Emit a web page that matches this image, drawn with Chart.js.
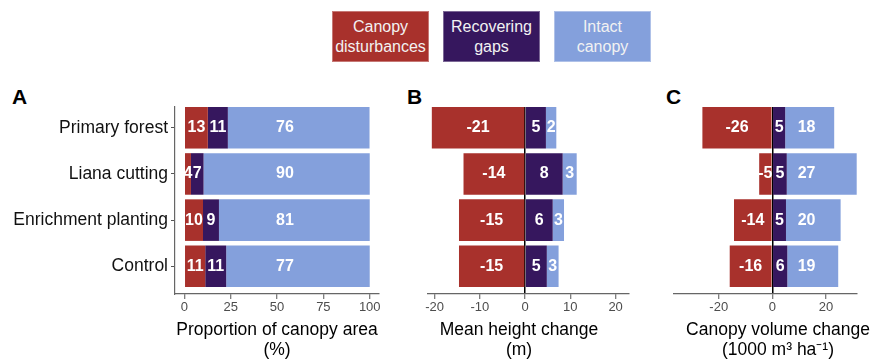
<!DOCTYPE html>
<html>
<head>
<meta charset="utf-8">
<script src="https://cdn.jsdelivr.net/npm/chart.js@4.4.1/dist/chart.umd.min.js"></script>
<style>
  html, body { margin: 0; padding: 0; width: 870px; height: 360px; overflow: hidden; background: #fff;
               font-family: "Liberation Sans", Arial, sans-serif; }
  .panel { position: absolute; top: 80px; height: 280px; }
  .key { position: absolute; top: 11px; width: 97px; height: 51px; box-sizing: border-box;
         border: 1px solid rgba(255,255,255,0.35); color: #f2f2f2; font-size: 16px; line-height: 20px;
         text-align: center; display: flex; align-items: center; justify-content: center; }
  .tag { position: absolute; top: 86px; font-weight: bold; font-size: 21px; line-height: 21px; color: #000; }
</style>
</head>
<body>
<div class="key" style="left:332px;background:#A8312C">Canopy<br>disturbances</div>
<div class="key" style="left:443px;background:#36175E">Recovering<br>gaps</div>
<div class="key" style="left:554px;background:#84A0DC">Intact<br>canopy</div>

<div class="tag" style="left:12px">A</div>
<div class="tag" style="left:407px">B</div>
<div class="tag" style="left:666px">C</div>

<div class="panel" style="left:0px;width:390px"><canvas id="chartA" width="390" height="280"></canvas></div>
<div class="panel" style="left:390px;width:258px"><canvas id="chartB" width="258" height="280"></canvas></div>
<div class="panel" style="left:640px;width:276px"><canvas id="chartC" width="276" height="280"></canvas></div>

<script>
const categories = ['Primary forest', 'Liana cutting', 'Enrichment planting', 'Control'];
const seriesNames = ['Canopy disturbances', 'Recovering gaps', 'Intact canopy'];
const seriesColors = ['#A8312C', '#36175E', '#84A0DC'];

// A: proportion of canopy area (%)
const areaDisturbed = [12.7, 3.6, 10.1, 11.3];
const areaRecovering = [10.8, 6.8, 8.6, 11.3];
const areaIntact = [76.4, 89.6, 81.3, 77.4];

// B: mean height change (m)
const heightDisturbed = [-20.6, -13.6, -14.6, -14.6];
const heightRecovering = [4.6, 8.3, 6.1, 4.8];
const heightIntact = [2.3, 3.1, 2.5, 2.6];

// C: canopy volume change (1000 m3 ha-1)
const volumeDisturbed = [-26.1, -4.9, -14.3, -15.9];
const volumeRecovering = [4.8, 5.4, 5.1, 5.6];
const volumeIntact = [18.3, 26.6, 20.4, 19.0];

const ticksA = [0, 25, 50, 75, 100];
const ticksB = [-20, -10, 0, 10, 20];
const ticksC = [-20, 0, 20];

const FONT = '"Liberation Sans", Arial, sans-serif';
Chart.defaults.font.family = FONT;

// white value labels on the bars
const barLabels = {
  id: 'barLabels',
  afterDatasetsDraw(chart) {
    const ctx = chart.ctx;
    ctx.save();
    ctx.font = 'bold 16px ' + FONT;
    ctx.fillStyle = '#fff';
    ctx.textAlign = 'center';
    ctx.textBaseline = 'middle';
    chart.data.datasets.forEach((ds, d) => {
      chart.getDatasetMeta(d).data.forEach((bar, i) => {
        let x = (bar.x + bar.base) / 2;
        if (ds.labelAt !== undefined) x = chart.scales.x.getPixelForValue(ds.labelAt);
        ctx.fillText(String(Math.round(ds.data[i].x)), x, bar.y);
      });
    });
    ctx.restore();
  }
};

function makePanel(id, series, cfg) {
  const datasets = series.map((vals, s) => ({
    label: seriesNames[s],
    data: vals.map((v, i) => ({ x: v, y: i })),
    backgroundColor: seriesColors[s],
    borderWidth: 0,
    barPercentage: 0.9,
    categoryPercentage: 1,
    clip: 0,
    labelAt: s === 2 ? cfg.intactLabelAt : undefined
  }));

  const scales = {
    x: {
      type: 'linear', stacked: true, min: cfg.min, max: cfg.max,
      afterBuildTicks: s => { s.ticks = cfg.ticks.map(v => ({ value: v })); },
      afterFit: s => { s.height = 26; },
      grid: {
        drawOnChartArea: cfg.zeroLine,
        color: c => (c.tick && c.tick.value === 0) ? '#000' : 'rgba(0,0,0,0)',
        lineWidth: 1.5, tickWidth: 1, tickColor: '#555', tickLength: 5
      },
      border: { color: '#666', width: 1.2 },
      ticks: { color: '#4d4d4d', font: { size: 13 }, padding: 1 }
    },
    y: {
      type: 'linear', stacked: true, reverse: true, offset: false, min: -0.45, max: 3.6,
      afterBuildTicks: s => { s.ticks = categories.map((c, i) => ({ value: i })); },
      afterFit: s => { s.width = cfg.leftWidth; },
      grid: { display: cfg.showCats, offset: false, drawOnChartArea: false, tickColor: '#555', tickLength: 4 },
      border: { display: cfg.showCats, color: '#666', width: 1.2 },
      ticks: { display: cfg.showCats, color: '#111', font: { size: 17.5 }, padding: 3,
               callback: v => categories[v] }
    }
  };
  if (cfg.rightWidth) {
    scales.yR = {
      type: 'linear', position: 'right',
      afterFit: s => { s.width = cfg.rightWidth; },
      grid: { display: false }, border: { display: false }, ticks: { display: false }
    };
  }

  new Chart(document.getElementById(id), {
    type: 'bar',
    data: { labels: categories, datasets },
    options: {
      indexAxis: 'y',
      responsive: false,
      animation: false,
      layout: { padding: { top: 27, bottom: 0, left: 0, right: cfg.padRight || 0 } },
      plugins: {
        legend: { display: false },
        tooltip: { enabled: false },
        title: {
          display: true, position: 'bottom', text: cfg.title, fullSize: cfg.fullSize,
          color: '#000', font: { size: 17.5, weight: 'normal', lineHeight: '20px' }, padding: 0
        }
      },
      scales
    },
    plugins: [barLabels]
  });
}

makePanel('chartA', [areaDisturbed, areaRecovering, areaIntact], {
  min: -5, max: 105, ticks: ticksA, zeroLine: false, showCats: true,
  leftWidth: 175, padRight: 11, fullSize: false, intactLabelAt: 54.3,
  title: ['Proportion of canopy area', '(%)']
});

makePanel('chartB', [heightDisturbed, heightRecovering, heightIntact], {
  min: -21.6, max: 22.8, ticks: ticksB, zeroLine: true, showCats: false,
  leftWidth: 37.3, rightWidth: 19.7, fullSize: true,
  title: ['Mean height change', '(m)']
});

makePanel('chartC', [volumeDisturbed, volumeRecovering, volumeIntact], {
  min: -36.7, max: 31.5, ticks: ticksC, zeroLine: true, showCats: false,
  leftWidth: 34, rightWidth: 59.3, fullSize: true, intactLabelAt: 12.8,
  title: ['Canopy volume change', '(1000 m\u00B3 ha\u207B\u00B9)']
});
</script>
</body>
</html>
